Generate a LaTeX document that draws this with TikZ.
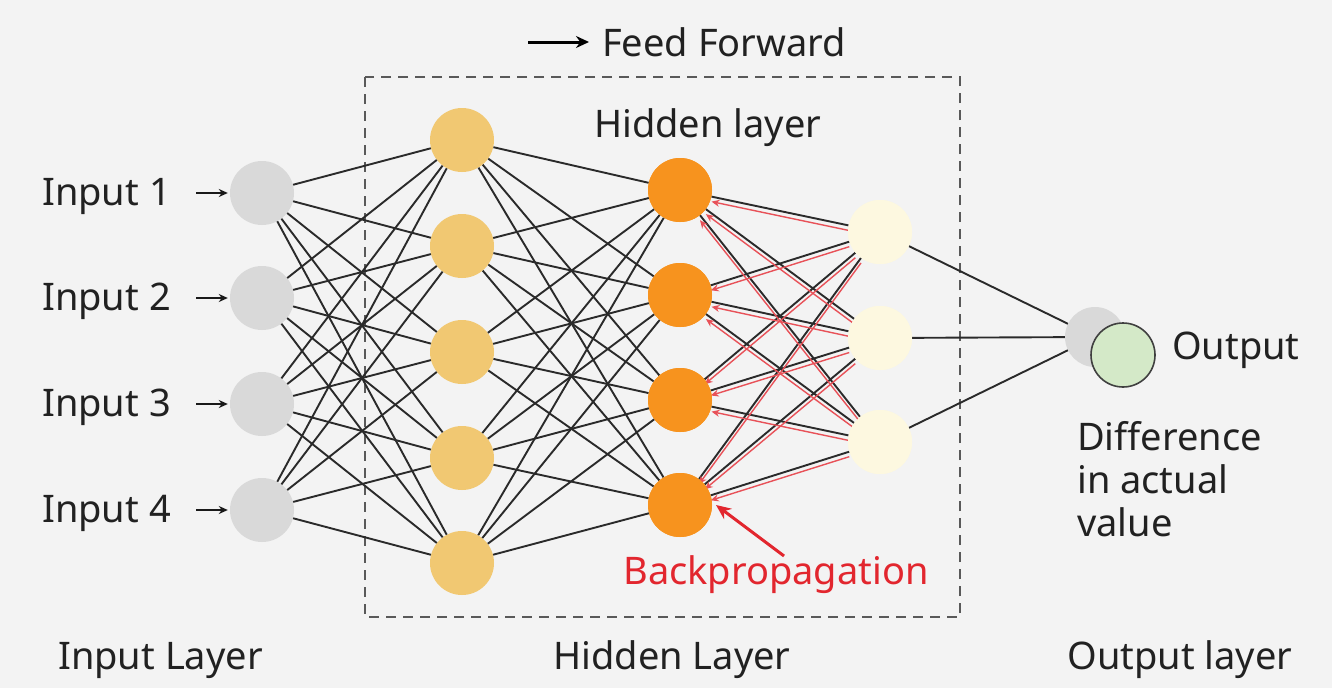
\documentclass[tikz,border=0pt]{standalone}
\usepackage{fontspec}
\setmainfont{Noto Sans}
\usetikzlibrary{arrows.meta,calc}
\definecolor{bg}{HTML}{F3F3F3}
\definecolor{ingray}{HTML}{D9D9D9}
\definecolor{gold}{HTML}{F1C872}
\definecolor{orng}{HTML}{F7931E}
\definecolor{cream}{HTML}{FDF8E0}
\definecolor{outgreen}{HTML}{D4E9C8}
\definecolor{bpred}{HTML}{E2262E}
\definecolor{lnk}{HTML}{2A2A2A}
\tikzset{
  neuron/.style={circle, minimum size=64pt, inner sep=0pt, draw=none},
  conn/.style={draw=lnk, line width=1.9pt},
  backln/.style={draw=bpred!80, line width=1.4pt, -{Stealth[length=8pt,width=7pt]}},
  lbl/.style={font=\fontsize{38}{43}\selectfont, text=black!87, inner sep=0pt},
  smallarrow/.style={draw=black!90, line width=1.8pt, -{Stealth[length=9pt,width=8pt]}}
}
\begin{document}
\begin{tikzpicture}[x=1pt,y=-1pt]
\fill[bg] (0,0) rectangle (1332,688);
\useasboundingbox (0,0) rectangle (1332,688);

% dashed box
\draw[draw=black!65, line width=2.2pt, dash pattern=on 10pt off 7pt] (365,77) rectangle (960,617);

% nodes
\foreach \y [count=\i] in {193,298,404,510} \node[neuron, fill=ingray] (in\i) at (262,\y) {};
\foreach \y [count=\i] in {140,246,352,458,563} \node[neuron, fill=gold] (ha\i) at (462,\y) {};
\foreach \y [count=\i] in {190,295,400,505} \node[neuron, fill=orng] (hb\i) at (680,\y) {};
\foreach \y [count=\i] in {232,338,442} \node[neuron, fill=cream] (hc\i) at (880,\y) {};
\node[neuron, fill=ingray, minimum size=60pt] (og) at (1095,337) {};

% connections
\foreach \i in {1,...,4} \foreach \j in {1,...,5} \draw[conn] (in\i) -- (ha\j);
\foreach \i in {1,...,5} \foreach \j in {1,...,4} \draw[conn] (ha\i) -- (hb\j);
\foreach \i in {1,...,4} \foreach \j in {1,...,3} \draw[conn] (hb\i) -- (hc\j);
\foreach \j in {1,...,3} \draw[conn] (hc\j) -- (og);
\foreach \i in {1,...,4} \foreach \j in {1,...,3} \draw[backln, transform canvas={yshift=-5pt}] (hc\j) -- (hb\i);

% redraw nodes on top
\foreach \y [count=\i] in {190,295,400,505} \node[neuron, fill=orng] at (680,\y) {};
\foreach \y [count=\i] in {232,338,442} \node[neuron, fill=cream] at (880,\y) {};
\node[neuron, fill=outgreen, draw=black!75, line width=1.6pt, minimum size=64pt] (out) at (1123,355) {};

% input labels and arrows
\foreach \y [count=\i] in {193,298,404,510} {
  \node[lbl, anchor=west] (il\i) at (42,\y+3) {Input \i};
  \coordinate (ia\i) at (196,\y);
  \draw[smallarrow, shorten >=2pt] (ia\i) -- (in\i.west);
}

% feed forward
\coordinate (ffa) at (528,42);
\node[lbl, anchor=west] (ff) at (602,42) {Feed Forward};
\draw[draw=black, line width=3pt, -{Stealth[length=13pt,width=12pt]}, shorten >=13pt] (ffa) -- (ff.west);

\node[lbl, anchor=west] (hl) at (594,128) {Hidden layer};
\node[lbl, anchor=west] (outl) at (1172,350) {Output};
\node[lbl, anchor=north west, align=left] (diff) at (1077,421) {Difference\\in actual\\value};

% backprop
\node[lbl, text=bpred] (bp) at (776,575) {Backpropagation};
\coordinate (bpa) at (784,556);
\coordinate (bpb) at (716,505);
\draw[draw=bpred, line width=3pt, -{Stealth[length=15pt,width=13pt]}] (bpa) -- (bpb);

% bottom labels
\node[lbl, anchor=west] (il) at (58,660) {Input Layer};
\node[lbl] (hdl) at (672,660) {Hidden Layer};
\node[lbl] (ol) at (1180,660) {Output layer};
\end{tikzpicture}
\end{document}
